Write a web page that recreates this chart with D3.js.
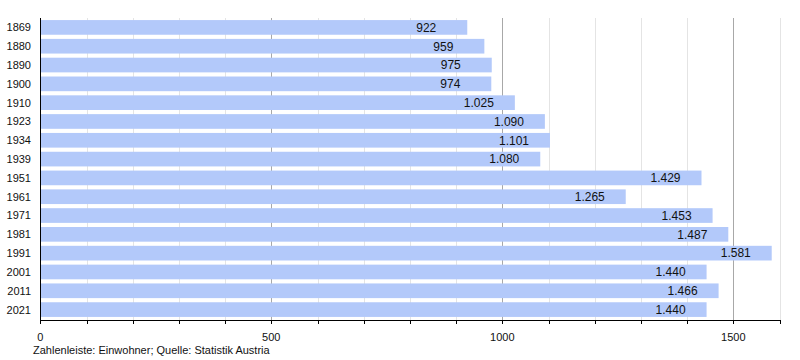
<!DOCTYPE html>
<html><head><meta charset="utf-8">
<script src="https://cdn.jsdelivr.net/npm/d3@7"></script>
<style>body{margin:0;background:#fff}svg{display:block;font-family:"Liberation Sans",Arial,sans-serif}</style>
</head><body>
<svg id="c" width="800" height="360"></svg>
<script>
const years = ["1869","1880","1890","1900","1910","1923","1934","1939","1951","1961","1971","1981","1991","2001","2011","2021"];
const population = [922,959,975,974,1025,1090,1101,1080,1429,1265,1453,1487,1581,1440,1466,1440];
const majorTicks = [0,500,1000,1500];
const footnote = "Zahlenleiste: Einwohner; Quelle: Statistik Austria";

const svg = d3.select("#c");
const x = d3.scaleLinear().domain([0,1600]).range([40.3,779.5]);
const y = d3.scaleBand().domain(years).range([18,319]).paddingInner(0.22).paddingOuter(0.11);

// minor grid
svg.append("g").selectAll("line").data(d3.range(100,1700,100).filter(v=>v%500!==0)).join("line")
  .attr("x1",d=>Math.round(x(d))+0.5).attr("x2",d=>Math.round(x(d))+0.5).attr("y1",18).attr("y2",320)
  .attr("stroke","#e4e4e4").attr("stroke-width",1);
svg.append("g").selectAll("line").data(majorTicks.slice(1)).join("line")
  .attr("x1",d=>Math.round(x(d))+0.5).attr("x2",d=>Math.round(x(d))+0.5).attr("y1",18).attr("y2",320)
  .attr("stroke","#a8a8a8").attr("stroke-width",1);

// bars
svg.append("g").selectAll("rect").data(years).join("rect")
  .attr("x",x(0)).attr("y",d=>y(d))
  .attr("width",(d,i)=>x(population[i])-x(0)+1).attr("height",y.bandwidth())
  .attr("fill","#b3c9fa");

const fmt = d3.formatLocale({decimal:",",thousands:".",grouping:[3],currency:["","€"]}).format(",d");
svg.append("g").selectAll("text").data(years).join("text")
  .attr("x",(d,i)=>x(population[i])-50).attr("y",d=>y(d)+y.bandwidth()/2)
  .attr("dy","0.36em").attr("text-anchor","start").attr("font-size",12).attr("fill","#111")
  .text((d,i)=>fmt(population[i]));

// y axis labels
svg.append("g").selectAll("text").data(years).join("text")
  .attr("x",31).attr("y",d=>y(d)+y.bandwidth()/2).attr("dy","0.36em")
  .attr("text-anchor","end").attr("font-size",11).attr("fill","#111").text(d=>d);

// axes lines
svg.append("line").attr("x1",40.5).attr("x2",40.5).attr("y1",18).attr("y2",321).attr("stroke","#000");
svg.append("line").attr("x1",40).attr("x2",x(1600)+1).attr("y1",320.5).attr("y2",320.5).attr("stroke","#000");
svg.append("g").selectAll("line").data(d3.range(0,1700,100)).join("line")
  .attr("x1",d=>Math.round(x(d))+0.5).attr("x2",d=>Math.round(x(d))+0.5).attr("y1",320).attr("y2",324)
  .attr("stroke","#000");
svg.append("g").selectAll("text").data(majorTicks).join("text")
  .attr("x",d=>x(d)).attr("y",341).attr("text-anchor","middle").attr("font-size",11).attr("fill","#111")
  .text(d=>d);

svg.append("text").attr("x",33).attr("y",353.5).attr("font-size",11).attr("fill","#111").text(footnote);
</script>
</body></html>
